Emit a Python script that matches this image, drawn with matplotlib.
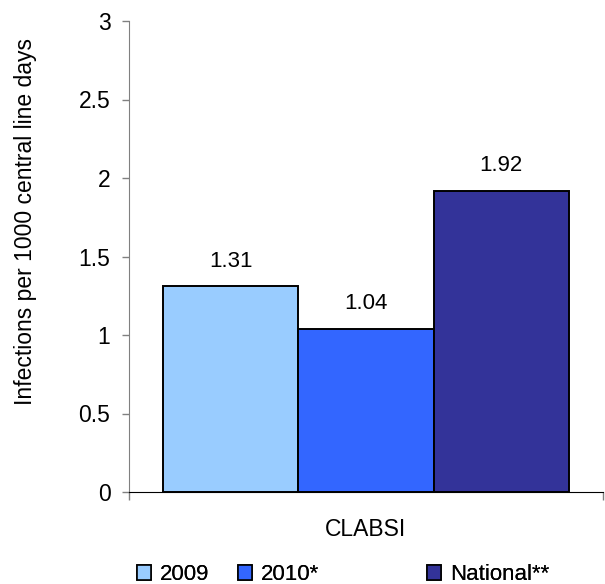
import matplotlib.pyplot as plt
from matplotlib.patches import Patch

plt.rcParams['font.family'] = ['Liberation Sans', 'DejaVu Sans']

series = ['2009', '2010*', 'National**']
values = [1.31, 1.04, 1.92]
colors = ['#99CCFF', '#3366FF', '#333399']
category = 'CLABSI'
yticks = [0, 0.5, 1, 1.5, 2, 2.5, 3]
ytick_labels = ['0', '0.5', '1', '1.5', '2', '2.5', '3']

W, H = 605, 584
fig = plt.figure(figsize=(W / 100, H / 100), dpi=100)
# axes box in pixels: x 129..603, y 21..492
ax = fig.add_axes([129 / W, (H - 492) / H, 474 / W, 471 / H])

width = 0.2855
centers = [0.5 - width, 0.5, 0.5 + width]
bars = ax.bar(centers, values, width=width, color=colors, edgecolor='black', linewidth=1.4)
for bar, v in zip(bars, values):
    ax.annotate(f'{v:.2f}', (bar.get_x() + bar.get_width() / 2, v), xytext=(0, 14),
                textcoords='offset points', ha='center', va='baseline', fontsize=16)

ax.set_xlim(0, 1)
ax.set_ylim(0, 3)
ax.set_yticks(yticks)
ax.set_yticklabels(ytick_labels)
ax.tick_params(axis='y', labelsize=16.5, length=5, width=1, color='#808080', pad=8.4)
ax.set_xticks([0, 1])
ax.set_xticklabels(['', ''])
ax.tick_params(axis='x', length=6, width=1, color='#808080')
ax.text(0.5, -44.4 / 471, category, transform=ax.transAxes, ha='center', va='baseline', fontsize=16.5)
ax.set_ylabel('Infections per 1000 central line days', fontsize=16.5, va='center')
ax.yaxis.set_label_coords(-103 / 474, 0.575)

ax.spines['top'].set_visible(False)
ax.spines['right'].set_visible(False)
ax.spines['left'].set_color('#808080')
ax.spines['bottom'].set_color('black')

# legend entries placed individually, as in the original
legend_x = [137, 238, 427]
for s, c, x in zip(series, colors, legend_x):
    lg = fig.legend(handles=[Patch(facecolor=c, edgecolor='black', linewidth=1.2, label=s)],
                    loc='center left', bbox_to_anchor=(x / W, 1 - 575 / H), frameon=False,
                    fontsize=16, handlelength=0.65, handleheight=0.65, handletextpad=0.4,
                    borderpad=0, borderaxespad=0)
    fig.add_artist(lg)

fig.savefig('out.png', dpi=100)
